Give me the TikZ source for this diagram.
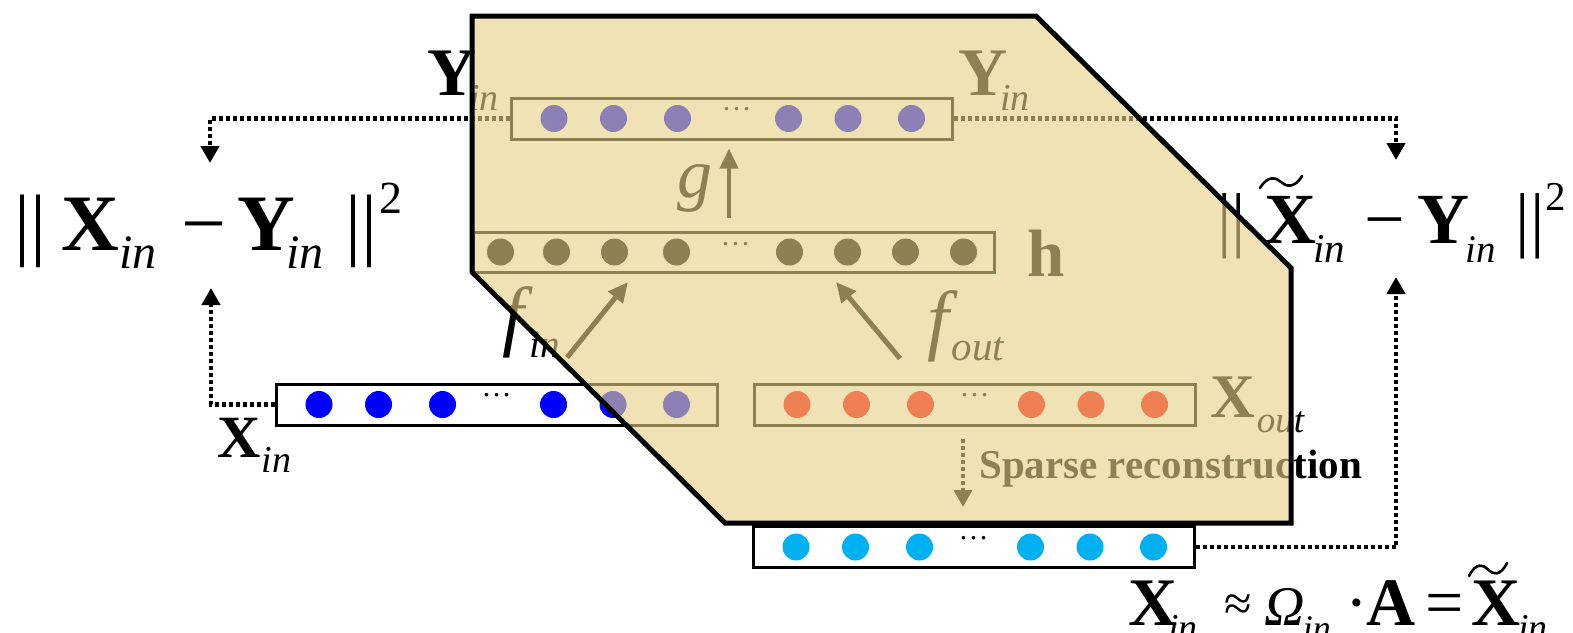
\documentclass[tikz,border=0pt]{standalone}
\usepackage{fontspec}
\setmainfont{Liberation Serif}
\usetikzlibrary{arrows.meta,calc}
\definecolor{overlaycol}{RGB}{230,209,136}
\definecolor{dotblue}{RGB}{0,0,255}
\definecolor{dotred}{RGB}{255,0,0}
\definecolor{dotcyan}{RGB}{0,176,240}
\newcommand\fs[1]{\fontsize{#1}{#1}\selectfont}
\newcommand\subit[3]{\raisebox{-#1}{\fs{#2}\itshape #3}}
\newcommand\tildepath[4]{%
  \draw[line width=2.6pt, line cap=round] (#1,#2+#4) .. controls (#1+0.18*#3,#2-0.05*#4) and (#1+0.38*#3,#2+0.1*#4) .. (#1+0.5*#3,#2+0.5*#4) .. controls (#1+0.62*#3,#2+0.9*#4) and (#1+0.82*#3,#2+1.05*#4) .. (#1+#3,#2);}
\tikzset{
  vecbox/.style={draw=black, line width=3pt, fill=white, minimum width=441pt, minimum height=41pt, inner sep=0pt},
  unit/.style={circle, inner sep=0pt, minimum size=27pt, fill=#1},
  dotsep/.style={inner sep=0pt, font=\fs{30}},
  lossline/.style={line width=4.5pt, dash pattern=on 4pt off 3pt, -{Triangle[width=18pt,length=17pt]}},
  maparrow/.style={line width=5pt, -{Triangle[width=18pt,length=20pt]}},
  lbl/.style={inner sep=0pt, anchor=base west},
}
\newcommand\vecrow[6]{%
  \node[vecbox] (#1) at (#2,#3) {};
  \foreach \o [count=\i] in {44.5,104,168,279,338.5,402}
    \node[unit=#4] (#1-\i) at ($(#1.west)+(\o,0)$) {};
  \node[dotsep] (#1-dots) at ($(#1.west)+(#5,-9)$) {…};
}
\begin{document}
\begin{tikzpicture}[x=1pt,y=-1pt]
\useasboundingbox (0,0) rectangle (1573,632);
\clip (0,0) rectangle (1573,632);
\fill[white] (0,0) rectangle (1573,632);

% vectors
\vecrow{ybox}{731.5}{118.5}{dotblue}{227}{}
\vecrow{xin}{496.5}{404.5}{dotblue}{222}{}
\vecrow{xout}{974.5}{404.5}{dotred}{222}{}
\vecrow{xrec}{973.5}{547}{dotcyan}{222}{}
\node[vecbox, minimum width=521pt, minimum height=40pt] (hbox) at (733.5,252) {};
\foreach \o [count=\i] in {29,85,143,205,318,376,434,492}
  \node[unit=black] (hbox-\i) at ($(hbox.west)+(\o,0)$) {};
\node[dotsep] (hbox-dots) at ($(hbox.west)+(264,-8)$) {…};

% labels
\node[lbl] (yinL) at (427,95) {\fs{68}\textbf{Y}\kern-7pt\subit{15pt}{38}{in}};
\node[lbl] (yinR) at (958,95) {\fs{68}\textbf{Y}\kern-7pt\subit{15pt}{38}{in}};
\node[lbl] (hlab) at (1027,276) {\fs{67}\bfseries h};
\node[lbl] (glab) at (677,197) {\fs{70}\itshape g};
\node[lbl] (finlab) at (502,341) {\fs{78}\itshape f\hspace{6pt}\subit{16pt}{39}{in}};
\node[lbl] (foutlab) at (927,345) {\fs{78}\itshape f\hspace{3pt}\subit{15pt}{41}{out}};
\node[lbl] (xoutlab) at (1210,417) {\fs{62}\textbf{X}\hspace{2pt}\subit{15pt}{37}{out}};
\node[lbl] (xinlab) at (217,457) {\fs{60}\textbf{X}\hspace{1pt}\subit{15pt}{38}{in}};
\node[lbl] (sparselab) at (979,478) {\fs{41}\bfseries Sparse reconstruction};

% loss formulas
\node[lbl] (lossL) at (14,250) {\fs{80}||\hspace{15pt}\textbf{X}\subit{18pt}{48}{in}\hspace{25pt}−\hspace{11pt}\textbf{Y}\kern-9pt\subit{18pt}{48}{in}\hspace{22pt}||\hspace{2pt}\raisebox{37pt}{\fs{46}2}};
\node[lbl] (lossR) at (1217,243) {\fs{72}||\hspace{18pt}\textbf{X}\kern-3pt\subit{19pt}{41}{in}\hspace{20pt}−\hspace{12pt}\textbf{Y}\kern-4pt\subit{19pt}{39}{in}\hspace{20pt}||\hspace{1pt}\raisebox{33pt}{\fs{41}2}};
\tildepath{1260}{176}{42}{12}
\node[lbl] (recon) at (1128,625) {\fs{68}\textbf{X}\kern-9pt\subit{15pt}{38}{in}\hspace{27pt}\raisebox{5pt}{\fs{50}≈}\hspace{12pt}{\fs{56}\itshape Ω}\kern-2pt\subit{15pt}{36}{in}\hspace{15pt}·\kern-2pt\textbf{A}\hspace{10pt}=\hspace{8pt}\textbf{X}\kern-3pt\subit{15pt}{38}{in}};
\tildepath{1469}{563}{38}{13}

% connectors
\coordinate (lossLtop) at (210,163);
\coordinate (lossRtop) at (1396,160);
\coordinate (lossLbot) at (211,288);
\coordinate (lossRbot) at (1396,277);
\draw[lossline] (ybox.west) -| (lossLtop);
\draw[lossline] (ybox.east) -| (lossRtop);
\draw[lossline] (xin.west) -| (lossLbot);
\draw[lossline] (xrec.east) -| (lossRbot);
\draw[lossline, line width=3.5pt] ($(xout.south)+(-11.5,12)$) -- ($(xrec.north)+(-10.5,-18)$);

\coordinate (ginS) at ($(hbox.north)+(-4.5,-13)$);
\coordinate (ginE) at ($(ybox.south)+(-2.5,8)$);
\draw[maparrow, line width=4pt] (ginS) -- (ginE);
\coordinate (finS) at ($(xin.north)+(70.5,-25)$);
\coordinate (finE) at ($(hbox.south)+(-105.5,8.5)$);
\draw[maparrow] (finS) -- (finE);
\coordinate (foutS) at ($(xout.north)+(-74.5,-24)$);
\coordinate (foutE) at ($(hbox.south)+(102.5,8.5)$);
\draw[maparrow] (foutS) -- (foutE);

% translucent overlay
\draw[line width=5pt, line join=miter, fill=overlaycol, fill opacity=0.616, draw opacity=1]
  (472,16) -- (1036,16) -- (1291,268) -- (1291,523) -- (725,523) -- (472,272) -- cycle;
\end{tikzpicture}
\end{document}
